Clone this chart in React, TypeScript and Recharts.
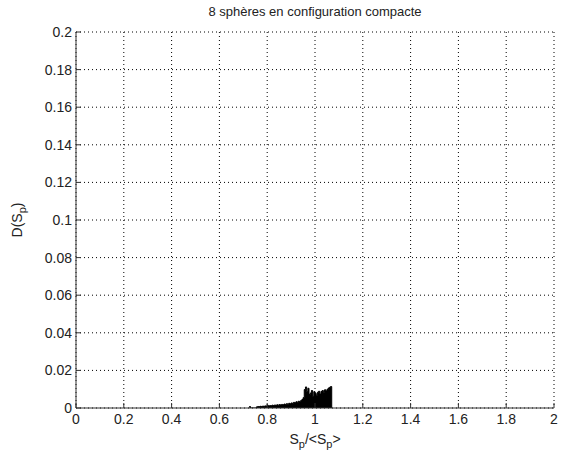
import React from "react";
import {
  Area,
  CartesianGrid,
  ComposedChart,
  Label,
  XAxis,
  YAxis,
} from "recharts";

// histogram bin starts (Sp/<Sp>) and heights D(Sp)
const binX = [
  0.725, 0.73, 0.755, 0.76, 0.765, 0.77, 0.775, 0.78, 0.785, 0.79, 0.795,
  0.8, 0.805, 0.81, 0.815, 0.82, 0.825, 0.83, 0.835, 0.84, 0.845, 0.85,
  0.855, 0.86, 0.865, 0.87, 0.875, 0.88, 0.885, 0.89, 0.895, 0.9, 0.905,
  0.91, 0.915, 0.92, 0.925, 0.93, 0.935, 0.94, 0.945, 0.95, 0.955, 0.96,
  0.965, 0.97, 0.975, 0.98, 0.985, 0.99, 0.995, 1.0, 1.005, 1.01, 1.015,
  1.02, 1.025, 1.03, 1.035, 1.04, 1.045, 1.05, 1.055, 1.06, 1.065, 1.07,
];
const binD = [
  0.0008, 0, 0.0006, 0.0008, 0.0007, 0.0009, 0.0008, 0.001, 0.0009, 0.0011,
  0.001, 0.0014, 0.0011, 0.0013, 0.0012, 0.0015, 0.0013, 0.0016, 0.0014,
  0.0017, 0.0015, 0.0018, 0.0016, 0.0019, 0.0017, 0.0021, 0.0019, 0.0023,
  0.002, 0.0025, 0.0022, 0.0027, 0.0025, 0.003, 0.0028, 0.0033, 0.0031,
  0.0036, 0.0034, 0.004, 0.0045, 0.0055, 0.0098, 0.0112, 0.0088, 0.0105,
  0.0072, 0.008, 0.0093, 0.0062, 0.0087, 0.0078, 0.0068, 0.0084, 0.0089,
  0.0074, 0.0088, 0.0093, 0.0082, 0.0097, 0.0091, 0.0099, 0.0106, 0.011,
  0.0114, 0,
];

const xTicks = [0, 0.2, 0.4, 0.6, 0.8, 1, 1.2, 1.4, 1.6, 1.8, 2];
const yTicks = [0, 0.02, 0.04, 0.06, 0.08, 0.1, 0.12, 0.14, 0.16, 0.18, 0.2];

const data = binX.map((x, i) => ({ x, d: binD[i] }));

const FONT = "'Liberation Sans', Arial, sans-serif";
const TEXT = "#222";
const BOX = "#333";
const TICK = 5;

const BottomTick = ({ x, y, payload }: any) => (
  <g>
    <line x1={x} y1={y} x2={x} y2={y - TICK} stroke={BOX} />
    <text x={x} y={y + 16} textAnchor="middle" fontSize={14} fill={TEXT} fontFamily={FONT}>
      {String(payload.value)}
    </text>
  </g>
);

const TopTick = ({ x, y }: any) => (
  <line x1={x} y1={y} x2={x} y2={y + TICK} stroke={BOX} />
);

const LeftTick = ({ x, y, payload }: any) => (
  <g>
    <line x1={x} y1={y} x2={x + TICK} y2={y} stroke={BOX} />
    <text x={x - 4} y={y + 5} textAnchor="end" fontSize={14} fill={TEXT} fontFamily={FONT}>
      {String(payload.value)}
    </text>
  </g>
);

const RightTick = ({ x, y }: any) => (
  <line x1={x} y1={y} x2={x - TICK} y2={y} stroke={BOX} />
);

export default function App() {
  return (
    <div style={{ position: "absolute", left: 0, top: 0, background: "#fff" }}>
      <ComposedChart
        width={563}
        height={459}
        data={data}
        margin={{ top: 32, right: 9, left: 0, bottom: 0 }}
      >
        <text x={315} y={16} textAnchor="middle" fontSize={13} fill={TEXT} fontFamily={FONT}>
          8 sphères en configuration compacte
        </text>
        <CartesianGrid stroke="#000" strokeDasharray="1 3" />
        <XAxis
          dataKey="x"
          type="number"
          domain={[0, 2]}
          ticks={xTicks}
          allowDataOverflow
          height={51}
          tickSize={0}
          tickMargin={0}
          tickLine={false}
          axisLine={{ stroke: BOX }}
          tick={<BottomTick />}
        >
          <Label
            content={({ viewBox }: any) => (
              <text
                x={viewBox.x + viewBox.width / 2}
                y={viewBox.y + 36}
                textAnchor="middle"
                fontSize={14}
                fill={TEXT}
                fontFamily={FONT}
              >
                S<tspan fontSize={11} dy={4}>p</tspan>
                <tspan dy={-4}>/&lt;S</tspan>
                <tspan fontSize={11} dy={4}>p</tspan>
                <tspan dy={-4}>&gt;</tspan>
              </text>
            )}
          />
        </XAxis>
        <XAxis
          xAxisId="top"
          orientation="top"
          type="number"
          domain={[0, 2]}
          ticks={xTicks}
          allowDataOverflow
          height={0}
          tickSize={0}
          tickMargin={0}
          tickLine={false}
          axisLine={{ stroke: BOX }}
          tick={<TopTick />}
        />
        <YAxis
          type="number"
          domain={[0, 0.2]}
          ticks={yTicks}
          allowDataOverflow
          width={76}
          tickSize={0}
          tickMargin={0}
          tickLine={false}
          axisLine={{ stroke: BOX }}
          tick={<LeftTick />}
        >
          <Label
            content={({ viewBox }: any) => {
              const cx = 22;
              const cy = viewBox.y + viewBox.height / 2;
              return (
                <text
                  x={cx}
                  y={cy}
                  transform={`rotate(-90 ${cx} ${cy})`}
                  textAnchor="middle"
                  fontSize={14}
                  fill={TEXT}
                  fontFamily={FONT}
                >
                  D(S<tspan fontSize={11} dy={4}>p</tspan>
                  <tspan dy={-4}>)</tspan>
                </text>
              );
            }}
          />
        </YAxis>
        <YAxis
          yAxisId="right"
          orientation="right"
          type="number"
          domain={[0, 0.2]}
          ticks={yTicks}
          allowDataOverflow
          width={0}
          tickSize={0}
          tickMargin={0}
          tickLine={false}
          axisLine={{ stroke: BOX }}
          tick={<RightTick />}
        />
        <Area
          type="stepAfter"
          dataKey="d"
          stroke="#000"
          strokeWidth={1}
          fill="#000"
          fillOpacity={1}
          dot={false}
          activeDot={false}
          isAnimationActive={false}
        />
      </ComposedChart>
    </div>
  );
}
